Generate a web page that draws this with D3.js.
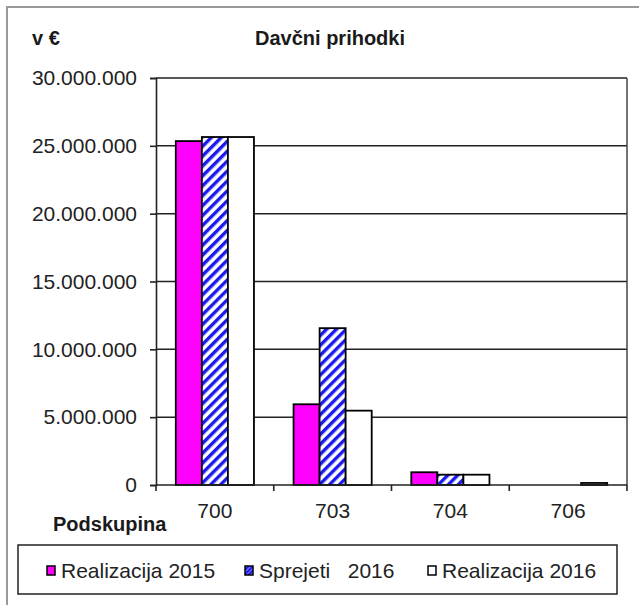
<!DOCTYPE html>
<html><head><meta charset="utf-8">
<script src="https://cdn.jsdelivr.net/npm/d3@7"></script>
<style>html,body{margin:0;padding:0;background:#fff;}svg{display:block;font-family:"Liberation Sans",Arial,sans-serif;}</style>
</head><body>
<svg id="c" width="639" height="605"></svg>
<script>
const categories = ["700", "703", "704", "706"];
const seriesNames = ["Realizacija 2015", "Sprejeti   2016", "Realizacija 2016"];
const realizacija2015 = [25350000, 5950000, 940000, 0];
const sprejeti2016 = [25650000, 11560000, 760000, 0];
const realizacija2016 = [25650000, 5480000, 760000, 150000];
const yTicks = [0, 5000000, 10000000, 15000000, 20000000, 25000000, 30000000];
const titleText = "Davčni prihodki";
const unitText = "v €";
const xAxisTitle = "Podskupina";

const seriesValues = [realizacija2015, sprejeti2016, realizacija2016];
const fills = ["#ff00ff", "url(#hatch)", "#ffffff"];
const swatchFills = ["#ff00ff", "url(#hatch2)", "#ffffff"];

const svg = d3.select("#c");
const defs = svg.append("defs");
const pat = defs.append("pattern").attr("id", "hatch").attr("patternUnits", "userSpaceOnUse")
  .attr("width", 7).attr("height", 7).attr("patternTransform", "rotate(45)");
pat.append("rect").attr("width", 7).attr("height", 7).attr("fill", "#fff");
pat.append("rect").attr("width", 3.4).attr("height", 7).attr("fill", "#1a1aee");
const pat2 = defs.append("pattern").attr("id", "hatch2").attr("patternUnits", "userSpaceOnUse")
  .attr("width", 3).attr("height", 3).attr("patternTransform", "rotate(45)");
pat2.append("rect").attr("width", 3).attr("height", 3).attr("fill", "#7f7fff");
pat2.append("rect").attr("width", 2).attr("height", 3).attr("fill", "#1a1aee");

// outer frame
svg.append("rect").attr("x", 7).attr("y", 7).attr("width", 700).attr("height", 700)
  .attr("fill", "none").attr("stroke", "#999").attr("stroke-width", 2);

const L = 156, R = 627, T = 78, B = 485;
const x = d3.scaleBand().domain(categories).range([L, R]).padding(0);
const xi = d3.scaleBand().domain(d3.range(seriesNames.length)).range([0, x.bandwidth()]).paddingInner(0).paddingOuter(0.76);
const y = d3.scaleLinear().domain([0, 30000000]).range([B, T]);
const loc = d3.formatLocale({decimal: ",", thousands: ".", grouping: [3], currency: ["", "€"]});
const fmt = loc.format(",d");

// gridlines
svg.append("g").selectAll("line").data(yTicks.filter(d => d > 0)).join("line")
  .attr("x1", L).attr("x2", R).attr("y1", d => y(d)).attr("y2", d => y(d))
  .attr("stroke", "#222").attr("stroke-width", 1.5);
// right border of plot area
svg.append("line").attr("x1", R).attr("x2", R).attr("y1", T).attr("y2", B).attr("stroke", "#444").attr("stroke-width", 1.5);

// bars
const groups = svg.append("g").selectAll("g").data(seriesValues).join("g");
groups.each(function(vals, si) {
  d3.select(this).selectAll("rect").data(vals).join("rect")
    .attr("x", (d, i) => x(categories[i]) + xi(si))
    .attr("width", xi.bandwidth())
    .attr("y", d => y(d))
    .attr("height", d => y(0) - y(d))
    .attr("fill", fills[si])
    .attr("stroke", "#000").attr("stroke-width", 1.8)
    .attr("display", d => d > 0 ? null : "none");
});

// y axis
const yAxis = d3.axisLeft(y).tickValues(yTicks).tickFormat(fmt).tickSize(6).tickPadding(13);
const ya = svg.append("g").attr("transform", `translate(${L},0)`).call(yAxis);
ya.select(".domain").attr("stroke", "#222").attr("stroke-width", 1.6);
ya.selectAll(".tick line").attr("stroke", "#222").attr("stroke-width", 1.6);
ya.selectAll("text").attr("font-size", 21).attr("fill", "#222").attr("font-family", "Liberation Sans, Arial, sans-serif");

// x axis
const xAxis = d3.axisBottom(x).tickSize(0).tickPadding(18);
const xa = svg.append("g").attr("transform", `translate(0,${B})`).call(xAxis);
xa.select(".domain").remove();
xa.append("line").attr("x1", L).attr("x2", R).attr("y1", 0).attr("y2", 0).attr("stroke", "#222").attr("stroke-width", 1.6);
xa.selectAll(".bnd").data(categories.concat([null])).join("line").attr("class", "bnd")
  .attr("x1", (d, i) => i < categories.length ? x(d) : R).attr("x2", (d, i) => i < categories.length ? x(d) : R)
  .attr("y1", 0).attr("y2", 6).attr("stroke", "#222").attr("stroke-width", 1.6);
xa.selectAll("text").attr("font-size", 21).attr("fill", "#222").attr("font-family", "Liberation Sans, Arial, sans-serif");

// titles
svg.append("text").attr("x", 330).attr("y", 45).attr("text-anchor", "middle").attr("font-size", 20)
  .attr("font-weight", "bold").attr("fill", "#1a1a1a").text(titleText);
svg.append("text").attr("x", 32).attr("y", 45).attr("font-size", 20)
  .attr("font-weight", "bold").attr("fill", "#1a1a1a").text(unitText);
svg.append("text").attr("x", 53).attr("y", 531).attr("font-size", 20)
  .attr("font-weight", "bold").attr("fill", "#1a1a1a").text(xAxisTitle);

// legend
const lg = svg.append("g");
lg.append("rect").attr("x", 18).attr("y", 545).attr("width", 599).attr("height", 49)
  .attr("fill", "#fff").attr("stroke", "#222").attr("stroke-width", 1.5);
const lx = [47, 245, 428];
const items = lg.selectAll("g.it").data(seriesNames).join("g").attr("class", "it")
  .attr("transform", (d, i) => `translate(${lx[i]},0)`);
items.append("rect").attr("x", 0).attr("y", 566).attr("width", 8).attr("height", 9)
  .attr("fill", (d, i) => swatchFills[i]).attr("stroke", "#000").attr("stroke-width", 1.5);
items.append("text").attr("x", 14).attr("y", 578).attr("font-size", 21).attr("fill", "#222")
  .attr("xml:space", "preserve").style("white-space", "pre").text(d => d);
</script>
</body></html>
